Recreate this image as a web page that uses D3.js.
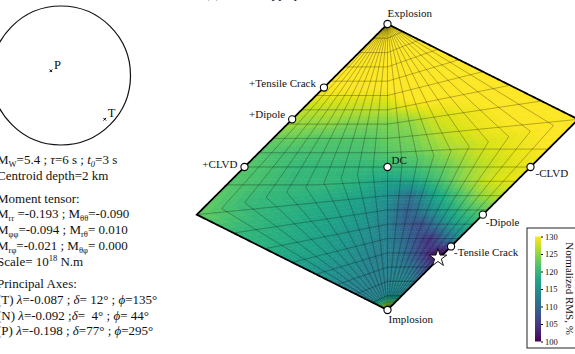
<!DOCTYPE html>
<html><head><meta charset="utf-8">
<script src="https://cdn.jsdelivr.net/npm/d3@7"></script>
<style>
body{margin:0;background:#fff}
svg{display:block}
text{font-family:"Liberation Serif","Times New Roman",serif;fill:#111}
</style>
</head><body>
<svg id="c" width="575" height="354"></svg>
<script>
// ---------------- DATA ----------------
// Grid nodes of the misfit map: T (CLVD parameter) and k (isotropic fraction)
const tNodes = [-1, -0.8, -0.6, -0.4, -0.2, 0, 0.2, 0.4, 0.6, 0.8, 1];
const kNodes = [1, 0.9, 0.8, 0.7, 0.6, 0.5, 0.4, 0.3, 0.2, 0.1, 0, -0.1, -0.2, -0.3, -0.4, -0.5, -0.6, -0.7, -0.8, -0.9, -1];
// Normalized RMS (%) at each node, one row per k value, columns follow tNodes
const rms = [
  [135,135,135,135,135,135,135,135,135,135,135],
  [134,134,134,134,134,134,134,134,134,134,134],
  [133,133,133,133,133,133,133,133,133,133,133],
  [132,132,132,132,132,132,132,132,132,132,132],
  [131,131,131,131,131,131,132,132,132,132,132],
  [129,129,129,129,129,129,131,131,131,131,131],
  [127,127,127,127,127,127,129,130,130,130,130],
  [126,125,125,124,124,124,125,128,129,130,130],
  [123,123,122,122,122,123,124,127,129,130,131],
  [122,121,121,121,121,122,123,126,128,129,130],
  [122,121,120,120,120,120,121,123,126,128,129],
  [122,121,120,120,119,117,118,121,125,128,129],
  [123,120,119,118,117,115,111,117,121,125,127],
  [120,119,118,117,116,114,109,114,118,121,123],
  [119,118,117,116,115,113,109,107,113,117,119],
  [117,117,116,115,114,113,111,108,104,110,115],
  [116,115,115,114,113,113,112,109,106,102,100],
  [114,114,114,113,113,113,113,112,111,108,105],
  [113,113,113,113,113,113,114,114,114,113,112],
  [114,114,114,114,114,114,114,114,114,114,114],
  [132,132,132,132,132,132,132,132,132,132,132]
];
// grid lines drawn over the map
const gridT = [-0.9,-0.8,-0.7,-0.6,-0.5,-0.4,-0.3,-0.2,-0.1,0,0.1,0.2,0.3,0.4,0.5,0.6,0.7,0.8,0.9];
const gridK = [-0.9,-0.8,-0.7,-0.6,-0.5,-0.4,-0.3,-0.2,-0.1,0,0.1,0.2,0.3,0.4,0.5,0.6,0.7,0.8,0.9];
// reference source types (T, k)
const sourceNames = ["Explosion","+Tensile Crack","+Dipole","+CLVD","DC","-CLVD","-Dipole","-Tensile Crack","Implosion"];
const sourceT = [0, -1, -1, -1, 0, 1, 1, 1, 0];
const sourceK = [1, 5/9, 1/3, 0, 0, 0, -1/3, -5/9, -1];
// best solution
const bestT = 0.97, bestK = -0.636;
// colour bar
const rmsMin = 100, rmsMax = 130;
const cbTicks = [100, 105, 110, 115, 120, 125, 130];
// principal axes
const axisNames = ["T", "N", "P"];
const axisLambda = ["-0.087", "-0.092", "-0.198"];
const axisDelta = ["12", "4", "77"];
const axisPhi = ["135", "44", "295"];
const plotAxes = ["P", "T"];

// ---------------- DRAWING ----------------
const svg = d3.select("#c");
const cx = 387.5, cy = 167, sc = 143;
const xU = d3.scaleLinear().domain([-1, 1]).range([cx - sc, cx + sc]);
const yV = d3.scaleLinear().domain([-1, 1]).range([cy + sc, cy - sc]);
const color = d3.scaleSequential(d3.interpolateViridis).domain([rmsMin, rmsMax]).clamp(true);

function hudson(T, k) {
  const tau = T * (1 - Math.abs(k));
  let u, v;
  if (tau > 0 && k > 0) {
    if (tau < 4 * k) { u = tau / (1 - tau / 2); v = k / (1 - tau / 2); }
    else { u = tau / (1 - 2 * k); v = k / (1 - 2 * k); }
  } else if (tau < 0 && k < 0) {
    if (tau > 4 * k) { u = tau / (1 + tau / 2); v = k / (1 + tau / 2); }
    else { u = tau / (1 + 2 * k); v = k / (1 + 2 * k); }
  } else { u = tau; v = k; }
  return [xU(u), yV(v)];
}

// field
const gField = svg.append("g");
const nSub = 4, nEdge = 3;
const cells = [];
for (let j = 0; j < kNodes.length - 1; j++) {
  for (let i = 0; i < tNodes.length - 1; i++) {
    const v00 = rms[j][i], v10 = rms[j][i + 1], v01 = rms[j + 1][i], v11 = rms[j + 1][i + 1];
    for (let a = 0; a < nSub; a++) for (let b = 0; b < nSub; b++) {
      const fa0 = a / nSub, fa1 = (a + 1) / nSub, fb0 = b / nSub, fb1 = (b + 1) / nSub;
      const fc = (a + 0.5) / nSub, fd = (b + 0.5) / nSub;
      const val = v00 * (1 - fc) * (1 - fd) + v10 * fc * (1 - fd) + v01 * (1 - fc) * fd + v11 * fc * fd;
      const T0 = tNodes[i] + (tNodes[i + 1] - tNodes[i]) * fa0, T1 = tNodes[i] + (tNodes[i + 1] - tNodes[i]) * fa1;
      const K0 = kNodes[j] + (kNodes[j + 1] - kNodes[j]) * fb0, K1 = kNodes[j] + (kNodes[j + 1] - kNodes[j]) * fb1;
      const pts = [];
      for (let s = 0; s < nEdge; s++) pts.push(hudson(T0 + (T1 - T0) * s / nEdge, K0));
      for (let s = 0; s < nEdge; s++) pts.push(hudson(T1, K0 + (K1 - K0) * s / nEdge));
      for (let s = 0; s < nEdge; s++) pts.push(hudson(T1 - (T1 - T0) * s / nEdge, K1));
      for (let s = 0; s < nEdge; s++) pts.push(hudson(T0, K1 - (K1 - K0) * s / nEdge));
      cells.push({pts, val});
    }
  }
}
gField.selectAll("path").data(cells).join("path")
  .attr("d", d => "M" + d.pts.map(p => p[0].toFixed(2) + "," + p[1].toFixed(2)).join("L") + "Z")
  .attr("fill", d => color(d.val))
  .attr("stroke", d => color(d.val))
  .attr("stroke-width", 0.6);

const line = d3.line();
const samp = d3.range(0, 401).map(i => -1 + i / 200);
const gGrid = svg.append("g").attr("fill", "none").attr("stroke", "rgba(0,0,0,0.42)").attr("stroke-width", 0.7);
gridT.forEach(T => gGrid.append("path").attr("d", line(samp.map(k => hudson(T, k)))));
gridK.forEach(k => gGrid.append("path").attr("d", line(samp.map(T => hudson(T, k)))));

// border
const border = samp.map(k => hudson(1, k)).concat(samp.slice().reverse().map(k => hudson(-1, k)));
svg.append("path").attr("d", line(border) + "Z").attr("fill", "none")
  .attr("stroke", "#000").attr("stroke-width", 1.8).attr("stroke-linejoin", "miter");

// source-type markers and labels
const labelStyle = {
  "Explosion": {dx: 0, dy: -7, anchor: "start"},
  "+Tensile Crack": {dx: -8, dy: -1, anchor: "end"},
  "+Dipole": {dx: -7, dy: -1, anchor: "end"},
  "+CLVD": {dx: -7, dy: 1, anchor: "end"},
  "DC": {dx: 4, dy: -3, anchor: "start"},
  "-CLVD": {dx: 5, dy: 10, anchor: "start"},
  "-Dipole": {dx: 3, dy: 11, anchor: "start"},
  "-Tensile Crack": {dx: 3, dy: 10, anchor: "start"},
  "Implosion": {dx: 1, dy: 13, anchor: "start"}
};
sourceNames.forEach((n, i) => {
  const p = hudson(sourceT[i], sourceK[i]);
  const st = labelStyle[n];
  svg.append("text").attr("x", p[0] + st.dx).attr("y", p[1] + st.dy)
    .attr("text-anchor", st.anchor).attr("font-size", 11).text(n);
});
sourceNames.forEach((n, i) => {
  const p = hudson(sourceT[i], sourceK[i]);
  svg.append("circle").attr("cx", p[0]).attr("cy", p[1]).attr("r", 3.6)
    .attr("fill", "#fff").attr("stroke", "#000").attr("stroke-width", 1.1);
});
// best solution star
const bp = hudson(bestT, bestK);
svg.append("path").attr("d", d3.symbol(d3.symbolStar, 95)())
  .attr("transform", `translate(${bp[0]},${bp[1]})`)
  .attr("fill", "#fff").attr("stroke", "#000").attr("stroke-width", 0.9);

// colour bar
const cbX = 535, cbW = 6;
const yC = d3.scaleLinear().domain([rmsMin, rmsMax]).range([341.5, 236.5]);
svg.append("rect").attr("x", 527).attr("y", 228).attr("width", 60).attr("height", 120)
  .attr("fill", "#fff").attr("stroke", "#222").attr("stroke-width", 1);
const defs = svg.append("defs");
const grad = defs.append("linearGradient").attr("id", "cbg").attr("x1", 0).attr("y1", 1).attr("x2", 0).attr("y2", 0);
d3.range(0, 11).forEach(i => grad.append("stop").attr("offset", i / 10)
  .attr("stop-color", color(rmsMin + (rmsMax - rmsMin) * i / 10)));
svg.append("rect").attr("x", cbX).attr("y", yC(rmsMax)).attr("width", cbW)
  .attr("height", yC(rmsMin) - yC(rmsMax)).attr("fill", "url(#cbg)");
const cbAxis = svg.append("g").attr("transform", `translate(${cbX + cbW},0)`)
  .call(d3.axisRight(yC).tickValues(cbTicks).tickSize(2).tickPadding(2));
cbAxis.select(".domain").remove();
cbAxis.selectAll("text").attr("font-size", 8.5).style("font-family", '"Liberation Serif",serif');
svg.append("text").attr("transform", "translate(566,288.5) rotate(90)")
  .attr("text-anchor", "middle").attr("font-size", 11).text("Normalized RMS, %");

// beachball
const bbX = 61, bbY = 75.5, bbR = 69.5;
svg.append("circle").attr("cx", bbX).attr("cy", bbY).attr("r", bbR)
  .attr("fill", "none").attr("stroke", "#111").attr("stroke-width", 1.2);
plotAxes.forEach(name => {
  const i = axisNames.indexOf(name);
  const r = bbR * Math.SQRT2 * Math.sin((90 - +axisDelta[i]) / 2 * Math.PI / 180);
  const az = +axisPhi[i] * Math.PI / 180;
  const px = bbX + r * Math.sin(az), py = bbY - r * Math.cos(az);
  svg.append("path").attr("d", `M${px-1.3},${py-1.3}L${px+1.3},${py+1.3}M${px-1.3},${py+1.3}L${px+1.3},${py-1.3}`)
    .attr("stroke", "#000").attr("stroke-width", 1);
  svg.append("text").attr("x", px + 3).attr("y", py - 2).attr("font-size", 12.5).text(name);
});

// title fragment at top (cut by the figure edge, as in the original)
svg.append("text").attr("x", 205).attr("y", -2.5).attr("font-size", 13).text("(b) Hudson-type plot");

// text block
function lineText(yy, parts) {
  const t = svg.append("text").attr("x", -3).attr("y", yy).attr("font-size", 13).style("white-space", "pre");
  parts.forEach(p => {
    const s = t.append("tspan").text(p.t);
    if (p.i) s.attr("font-style", "italic");
    if (p.sub) s.attr("font-size", 8.5).attr("dy", 2.5);
    if (p.sup) s.attr("font-size", 8.5).attr("dy", -5);
    if (p.back) s.attr("dy", p.back);
  });
}
lineText(164, [{t: "M"}, {t: "W", sub: 1}, {t: "=5.4 ; ", back: -2.5}, {t: "τ", i: 1}, {t: "=6 s ; "}, {t: "t", i: 1}, {t: "0", sub: 1, i: 1}, {t: "=3 s", back: -2.5}]);
lineText(180, [{t: "Centroid depth=2 km"}]);
lineText(203, [{t: "Moment tensor:"}]);
lineText(218, [{t: "M"}, {t: "rr", sub: 1}, {t: " =-0.193 ; M", back: -2.5}, {t: "θθ", sub: 1}, {t: "=-0.090", back: -2.5}]);
lineText(234, [{t: "M"}, {t: "φφ", sub: 1}, {t: "=-0.094 ; M", back: -2.5}, {t: "rθ", sub: 1}, {t: "= 0.010", back: -2.5}]);
lineText(250, [{t: "M"}, {t: "rφ", sub: 1}, {t: "=-0.021 ; M", back: -2.5}, {t: "θφ", sub: 1}, {t: "= 0.000", back: -2.5}]);
lineText(266, [{t: "Scale= 10"}, {t: "18", sup: 1}, {t: " N.m", back: 5}]);
lineText(288, [{t: "Principal Axes:"}]);
const sepD = [" ; ", " ;", " ; "];
const padD = [" ", "  ", ""];
const padP = ["", " ", ""];
axisNames.forEach((n, i) => {
  lineText(304 + i * 15.7, [{t: "(" + n + ") "}, {t: "λ", i: 1}, {t: "=" + axisLambda[i] + sepD[i]}, {t: "δ", i: 1},
    {t: "=" + padD[i] + axisDelta[i] + "° ; "}, {t: "ϕ", i: 1}, {t: "=" + padP[i] + axisPhi[i] + "°"}]);
});
</script>
</body></html>
